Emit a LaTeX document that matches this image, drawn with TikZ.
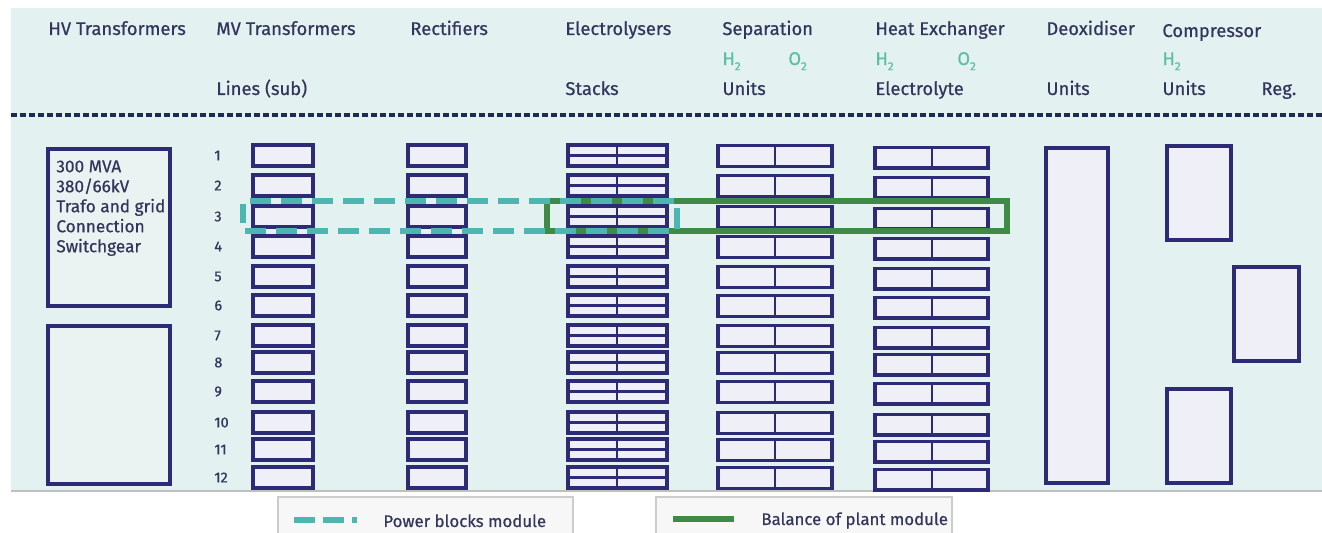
\documentclass[tikz,border=0pt]{standalone}
\usepackage{fontspec}
\setmainfont{Fira Sans}[FakeBold=0.6]
\definecolor{panel}{HTML}{E3F1F1}
\definecolor{navy}{HTML}{2D2A76}
\definecolor{boxfill}{HTML}{EFEFF7}
\definecolor{hvfill}{HTML}{EAF3F1}
\definecolor{txt}{HTML}{33365C}
\definecolor{hcol}{HTML}{5BBFA5}
\definecolor{teal}{HTML}{4DB6B1}
\definecolor{bopgreen}{HTML}{3E8A46}
\definecolor{dotline}{HTML}{1F2A55}
\newcommand{\lowsub}[1]{\raisebox{-2.6pt}{\fontsize{5.8}{6}\selectfont #1}}
\begin{document}
\begin{tikzpicture}[x=0.5pt,y=-0.5pt,
  box/.style={draw=navy,fill=boxfill,line width=1.8pt},
  hvbox/.style={draw=navy,fill=hvfill,line width=1.8pt},
  divider/.style={draw=navy,line width=1.4pt},
  hdr/.style={anchor=base west,text=txt,font=\fontsize{9.2}{11}\selectfont,inner sep=0pt},
  hsub/.style={hdr,text=hcol},
  num/.style={anchor=west,text=txt,font=\fontsize{7.2}{8}\selectfont,inner sep=0pt},
  legtext/.style={anchor=base west,text=txt,font=\fontsize{8.4}{10}\selectfont,inner sep=0pt},
  legbox/.style={fill=black!3,draw=black!20,line width=0.6pt},
  pbm/.style={draw=teal,line width=3pt,dash pattern=on 10.5pt off 5pt},
  bop/.style={draw=bopgreen,line width=3pt}
]
\useasboundingbox (0,0) rectangle (1322,533);
% panel
\fill[panel] (11,8) rectangle (1322,491);
\draw[black!25,line width=0.7pt] (11,491) -- (1322,491);

% headers
\node[hdr] (hHV) at (48,35) {HV Transformers};
\node[hdr] (hMV) at (216,35) {MV Transformers};
\node[hdr] (hRect) at (410,35) {Rectifiers};
\node[hdr] (hEl) at (565,35) {Electrolysers};
\node[hdr] (hSep) at (722,35) {Separation};
\node[hdr] (hHE) at (875,35) {Heat Exchanger};
\node[hdr] (hDeox) at (1046,35) {Deoxidiser};
\node[hdr] (hComp) at (1162,37) {Compressor};
\node[hsub] (sepH) at (722,65) {H\lowsub{2}};
\node[hsub] (sepO) at (788,65) {O\lowsub{2}};
\node[hsub] (heH) at (875,65) {H\lowsub{2}};
\node[hsub] (heO) at (957,65) {O\lowsub{2}};
\node[hsub] (coH) at (1162,65) {H\lowsub{2}};
\node[hdr] (lLines) at (216,95) {Lines (sub)};
\node[hdr] (lStacks) at (565,95) {Stacks};
\node[hdr] (lSepU) at (722,95) {Units};
\node[hdr] (lElec) at (875,95) {Electrolyte};
\node[hdr] (lDeoxU) at (1046,95) {Units};
\node[hdr] (lCompU) at (1162,95) {Units};
\node[hdr] (lReg) at (1261,95) {Reg.};
\draw[dotline,line width=1.6pt,dash pattern=on 3pt off 1.5pt] (11,115) -- (1322,115);

% HV boxes
\draw[hvbox] (48,149) rectangle (170,306);
\node[anchor=north west,align=left,text=txt,inner sep=0pt,
  font=\fontsize{8.6}{10}\selectfont] (hvtext) at (56,160)
  {300 MVA\\380/66kV\\Trafo and grid\\Connection\\Switchgear};
\draw[hvbox] (48,326) rectangle (170,484);

% rows
\foreach \t [count=\i] in {145,175,206,236,266,295,325,352,381,412,439,467}{
  \node[num] (n\i) at (214,\t+10.5) {\i};
  \draw[box] (253,\t) rectangle (313,\t+21);
  \draw[box] (408,\t) rectangle (466,\t+21);
  % electrolyser stacks
  \draw[box] (568,\t) rectangle (667,\t+21);
  \draw[divider] (568,\t+10.5) -- (667,\t+10.5);
  \draw[divider] (617,\t) -- (617,\t+21);
  % separation
  \draw[box] (718,\t+0.5) rectangle (832,\t+21.5);
  \draw[divider] (775,\t+0.5) -- (775,\t+21.5);
  % heat exchanger
  \draw[box] (875,\t+2.5) rectangle (988,\t+23);
  \draw[divider] (932,\t+2.5) -- (932,\t+23);
}

% deoxidiser and compressor
\draw[box] (1046,148) rectangle (1108,483);
\draw[box] (1167,146) rectangle (1231,240);
\draw[box] (1234,267) rectangle (1299,361);
\draw[box] (1167,389) rectangle (1231,483);

% modules
\draw[bop] (547,201) rectangle (1007,231);
\draw[pbm] (243,223) -- (243,204);
\draw[pbm] (250,201) -- (677,201) -- (677,229);
\draw[pbm] (245,231) -- (677,231);

% legend
\path[legbox] (278,533) -- (278,497) -- (573,497) -- (573,533);
\draw[draw=teal,line width=3pt,dash pattern=on 10.5pt off 4pt] (294,520) -- (357,520);
\node[legtext] (lpbm) at (383,527) {Power blocks module};
\path[legbox] (656,533) -- (656,497) -- (952,497) -- (952,533);
\draw[bop] (673,519) -- (734,519);
\node[legtext] (lbop) at (761,525) {Balance of plant module};
\end{tikzpicture}
\end{document}
